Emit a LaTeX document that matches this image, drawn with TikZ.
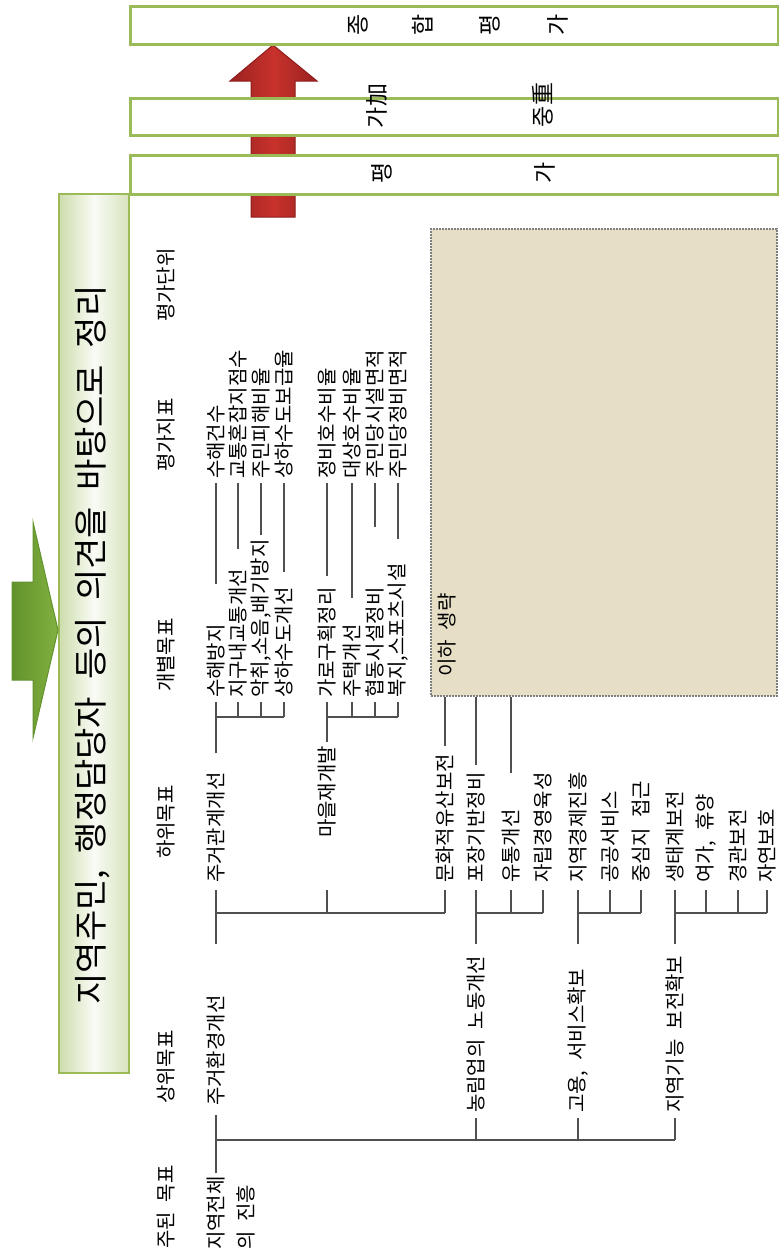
\documentclass[tikz,border=0pt]{standalone}
\usepackage{fontspec}
\setmainfont{Noto Sans CJK KR}
\newfontfamily\kfont{Noto Sans CJK KR}[WordSpace=2.2]
\usetikzlibrary{calc}
\definecolor{lg}{HTML}{505050}
\definecolor{boxgreen}{HTML}{9BBB59}
\definecolor{beige}{HTML}{E6DFC6}
\definecolor{dotgray}{HTML}{7F7F7F}
\definecolor{redarrow}{HTML}{C8322C}
\definecolor{reddark}{HTML}{8E1D1D}
\definecolor{greenarrow}{HTML}{82B040}
\definecolor{greendark}{HTML}{62922C}
\begin{document}
\begin{tikzpicture}[x=1pt,y=-1pt,
  lbl/.style={rotate=90,anchor=west,inner sep=0pt,font=\kfont\fontsize{20}{24}\selectfont},
  hdr/.style={rotate=90,anchor=center,inner sep=0pt,font=\kfont\fontsize{20}{24}\selectfont},
  ch/.style={rotate=90,anchor=center,inner sep=0pt,font=\kfont\fontsize{23}{27}\selectfont},
  conn/.style={draw=lg,line width=2pt},
  topbox/.style={draw=boxgreen,line width=2.5pt,fill=white,minimum width=648pt,inner sep=0pt,anchor=north west}
]
\useasboundingbox (0,0) rectangle (779,1254);

% helper levels
\coordinate (y1) at (0,1140);
\coordinate (u2) at (0,944);
\coordinate (y2) at (0,913);
\coordinate (t2) at (0,890);
\coordinate (u3) at (0,753);
\coordinate (y3) at (0,717);
\coordinate (t3) at (0,702);
\coordinate (t5) at (0,483);

% red arrow (behind the boxes)
\draw[draw=reddark,line width=1pt,left color=reddark!80!redarrow,right color=reddark!80!redarrow,middle color=redarrow]
  (251,217) -- (251,81) -- (230,81) -- (273,45) -- (317,81) -- (295,81) -- (295,217) -- cycle;

% top boxes
\node[topbox,minimum height=38pt] (bx1) at (129,5) {};
\node[topbox,minimum height=37pt] (bx2) at (129,97) {};
\node[topbox,minimum height=39pt] (bx3) at (129,154) {};

\node[ch] (c1) at (358,25) {종};
\node[ch] (c2) at (423,25) {합};
\node[ch] (c3) at (490,25) {평};
\node[ch] (c4) at (558,25) {가};
\node[ch] (w1) at (377,106) {가加};
\node[ch] (w2) at (543,105) {중重};
\node[ch] (e1) at (382,173) {평};
\node[ch] (e2) at (545,173) {가};

% title box
\node[draw=boxgreen,line width=2pt,left color=boxgreen!50!white,right color=boxgreen!40!white,middle color=boxgreen!6!white,
      minimum width=70pt,minimum height=879pt,inner sep=0pt,anchor=north west] (titlebox) at (58,193) {};
\node[rotate=90,inner sep=0pt,font=\kfont\fontsize{34}{40}\selectfont] (title) at (93,645) {지역주민, 행정담당자 등의 의견을 바탕으로 정리};

% green arrow
\draw[draw=greendark,line width=1pt,left color=greendark,right color=greenarrow]
  (12,582) -- (33,582) -- (33,522) -- (58,630) -- (33,738) -- (33,680) -- (12,680) -- cycle;

% omitted area
\node[draw=dotgray,line width=2pt,dash pattern=on 1.6pt off 1.4pt,fill=beige,minimum width=346pt,minimum height=467pt,inner sep=0pt,anchor=north west] (omit) at (430,228) {};
\node[lbl] (rest) at (447,677) {이하 생략};

% headers
\node[hdr] (h1) at (166,1207) {주된 목표};
\node[hdr] (h2) at (166,1067) {상위목표};
\node[hdr] (h3) at (166,822) {하위목표};
\node[hdr] (h4) at (166,655) {개별목표};
\node[hdr] (h5) at (166,435) {평가지표};
\node[hdr] (h6) at (166,285) {평가단위};

% root
\node[lbl] (root) at (216,1250) {지역전체};
\node[lbl] (rootb) at (246,1250) {의 진흥};

% level 2
\node[lbl] (l2a) at (216,1106) {주거환경개선};
\node[lbl] (l2b) at (476,1113) {농림업의 노동개선};
\node[lbl] (l2c) at (578,1113) {고용, 서비스확보};
\node[lbl] (l2d) at (675,1113) {지역기능 보전확보};

% level 3
\node[lbl] (l3a) at (216,883) {주거관계개선};
\node[lbl] (l3b) at (327,838) {마을재개발};
\node[lbl] (l3c) at (445,883) {문화적유산보전};
\node[lbl] (l3d) at (476,883) {포장기반정비};
\node[lbl] (l3e) at (511,883) {유통개선};
\node[lbl] (l3f) at (543,883) {자립경영육성};
\node[lbl] (l3g) at (578,883) {지역경제진흥};
\node[lbl] (l3h) at (610,883) {공공서비스};
\node[lbl] (l3i) at (641,883) {중심지 접근};
\node[lbl] (l3j) at (675,883) {생태계보전};
\node[lbl] (l3k) at (706,883) {여가, 휴양};
\node[lbl] (l3l) at (738,883) {경관보전};
\node[lbl] (l3m) at (767,883) {자연보호};

% level 4
\node[lbl] (l4a) at (216,698) {수해방지};
\node[lbl] (l4b) at (238,698) {지구내교통개선};
\node[lbl] (l4c) at (261,698) {악취,소음,배기방지};
\node[lbl] (l4d) at (284,698) {상하수도개선};
\node[lbl] (l4e) at (327,698) {가로구획정리};
\node[lbl] (l4f) at (352,698) {주택개선};
\node[lbl] (l4g) at (375,698) {협동시설정비};
\node[lbl] (l4h) at (398,698) {복지,스포츠시설};

% level 5
\node[lbl] (l5a) at (216,479) {수해건수};
\node[lbl] (l5b) at (238,479) {교통혼잡지점수};
\node[lbl] (l5c) at (261,479) {주민피해비율};
\node[lbl] (l5d) at (284,479) {상하수도보급율};
\node[lbl] (l5e) at (327,479) {정비호수비율};
\node[lbl] (l5f) at (352,479) {대상호수비율};
\node[lbl] (l5g) at (375,479) {주민당시설면적};
\node[lbl] (l5h) at (398,479) {주민당정비면적};

% ---- connectors ----
% root -> level 2
\draw[conn,shorten <=3pt,shorten >=9pt] (root.east) -- (l2a.west);
\draw[conn] (root.east |- y1) -- (l2d.west |- y1);
\foreach \n in {l2b,l2c,l2d} \draw[conn,shorten >=5pt] (\n.west |- y1) -- (\n.west);

% level 2 -> level 3
\draw[conn] (l2a.west |- u2) -- (l3a.west |- t2);
\draw[conn] (l2a.west |- y2) -- (l3c.west |- y2);
\foreach \n in {l3b,l3c} \draw[conn] (\n.west |- y2) -- (\n.west |- t2);

\draw[conn] (l2b.west |- u2) -- (l3d.west |- t2);
\draw[conn] (l2b.west |- y2) -- (l3f.west |- y2);
\foreach \n in {l3e,l3f} \draw[conn] (\n.west |- y2) -- (\n.west |- t2);

\draw[conn] (l2c.west |- u2) -- (l3g.west |- t2);
\draw[conn] (l2c.west |- y2) -- (l3i.west |- y2);
\foreach \n in {l3h,l3i} \draw[conn] (\n.west |- y2) -- (\n.west |- t2);

\draw[conn] (l2d.west |- u2) -- (l3j.west |- t2);
\draw[conn] (l2d.west |- y2) -- (l3m.west |- y2);
\foreach \n in {l3k,l3l,l3m} \draw[conn] (\n.west |- y2) -- (\n.west |- t2);

% level 3 -> level 4
\draw[conn] (l3a.west |- u3) -- (l4a.west |- t3);
\draw[conn] (l3a.west |- y3) -- (l4d.west |- y3);
\foreach \n in {l4b,l4c,l4d} \draw[conn] (\n.west |- y3) -- (\n.west |- t3);

\draw[conn,shorten <=4pt] (l3b.east) -- (l4e.west |- t3);
\draw[conn] (l3b.east |- y3) -- (l4h.west |- y3);
\foreach \n in {l4f,l4g,l4h} \draw[conn] (\n.west |- y3) -- (\n.west |- t3);

% level 3 -> omitted area
\draw[conn,shorten <=8pt] (l3c.east) -- (l3c.east |- omit.south);
\draw[conn,shorten <=7pt] (l3d.east) -- (l3d.east |- omit.south);
\draw[conn,shorten <=36pt] (l3e.east) -- (l3e.east |- omit.south);

% level 4 -> level 5
\draw[conn,shorten <=40pt] (l4a.east) -- (l4a.east |- t5);
\draw[conn,shorten <=20pt] (l4b.east) -- (l4b.east |- t5);
\draw[conn,shorten <=4pt] (l4c.east) -- (l4c.east |- t5);
\draw[conn,shorten <=15pt] (l4d.east) -- (l4d.east |- t5);
\draw[conn,shorten <=11pt] (l4e.east) -- (l4e.east |- t5);
\draw[conn,shorten <=26pt] (l4f.east) -- (l4f.east |- t5);
\draw[conn,shorten <=60pt] (l4g.east) -- (l4g.east |- t5);
\draw[conn,shorten <=24pt] (l4h.east) -- (l4h.east |- t5);
\end{tikzpicture}
\end{document}
